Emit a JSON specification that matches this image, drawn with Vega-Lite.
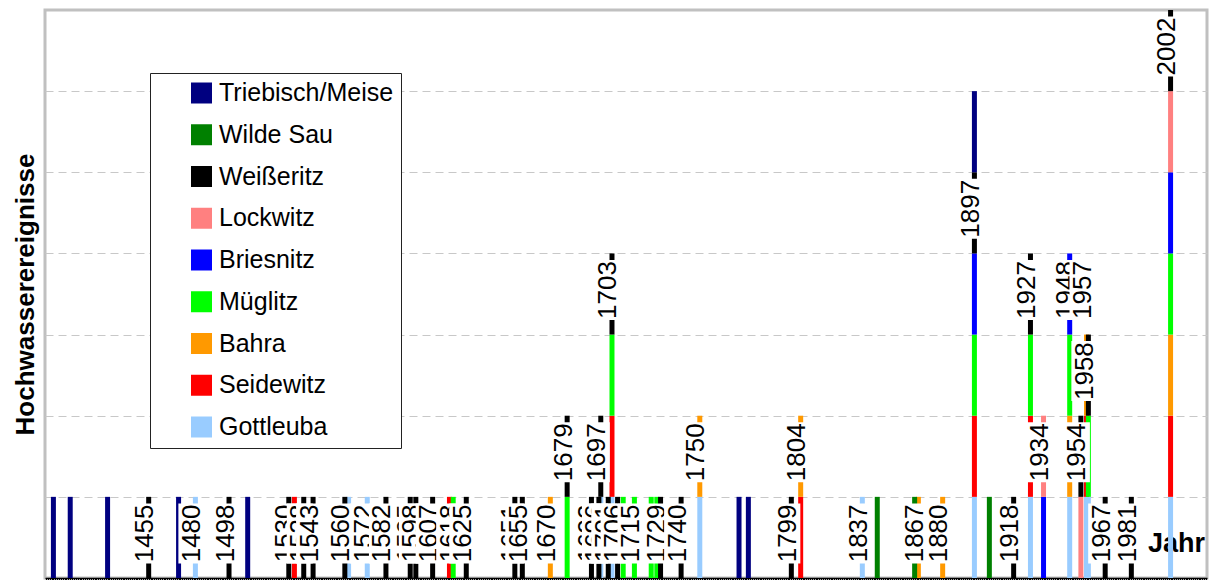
{
  "$schema": "https://vega.github.io/schema/vega-lite/v6.json",
  "width": 1162,
  "height": 568,
  "autosize": "none",
  "padding": {"left": 45, "top": 10, "right": 7, "bottom": 2},
  "background": "white",
  "config": {
    "view": {"stroke": "#c0c0c0", "strokeWidth": 3},
    "font": "Liberation Sans"
  },
  "datasets": {
    "ev": [
      {"year": 1480, "river": "Gottleuba", "n": 1},
      {"year": 1562, "river": "Gottleuba", "n": 1},
      {"year": 1572, "river": "Gottleuba", "n": 1},
      {"year": 1697, "river": "Gottleuba", "n": 1},
      {"year": 1703, "river": "Gottleuba", "n": 1},
      {"year": 1750, "river": "Gottleuba", "n": 1},
      {"year": 1837, "river": "Gottleuba", "n": 1},
      {"year": 1897, "river": "Gottleuba", "n": 1},
      {"year": 1927, "river": "Gottleuba", "n": 1},
      {"year": 1948, "river": "Gottleuba", "n": 1},
      {"year": 1957, "river": "Gottleuba", "n": 1},
      {"year": 1958, "river": "Gottleuba", "n": 1},
      {"year": 2002, "river": "Gottleuba", "n": 1},
      {"year": 1533, "river": "Seidewitz", "n": 1},
      {"year": 1616, "river": "Seidewitz", "n": 1},
      {"year": 1703, "river": "Seidewitz", "n": 1},
      {"year": 1804, "river": "Seidewitz", "n": 1},
      {"year": 1897, "river": "Seidewitz", "n": 1},
      {"year": 1927, "river": "Seidewitz", "n": 1},
      {"year": 1957, "river": "Seidewitz", "n": 1},
      {"year": 2002, "river": "Seidewitz", "n": 1},
      {"year": 1670, "river": "Bahra", "n": 1},
      {"year": 1750, "river": "Bahra", "n": 1},
      {"year": 1804, "river": "Bahra", "n": 1},
      {"year": 1867, "river": "Bahra", "n": 1},
      {"year": 1880, "river": "Bahra", "n": 1},
      {"year": 1948, "river": "Bahra", "n": 1},
      {"year": 1957, "river": "Bahra", "n": 1},
      {"year": 2002, "river": "Bahra", "n": 1},
      {"year": 1618, "river": "Müglitz", "n": 1},
      {"year": 1679, "river": "Müglitz", "n": 1},
      {"year": 1703, "river": "Müglitz", "n": 1},
      {"year": 1709, "river": "Müglitz", "n": 1},
      {"year": 1715, "river": "Müglitz", "n": 1},
      {"year": 1724, "river": "Müglitz", "n": 1},
      {"year": 1727, "river": "Müglitz", "n": 1},
      {"year": 1897, "river": "Müglitz", "n": 1},
      {"year": 1927, "river": "Müglitz", "n": 1},
      {"year": 1948, "river": "Müglitz", "n": 1},
      {"year": 1958, "river": "Müglitz", "n": 1},
      {"year": 2002, "river": "Müglitz", "n": 1},
      {"year": 1897, "river": "Briesnitz", "n": 1},
      {"year": 1934, "river": "Briesnitz", "n": 1},
      {"year": 1948, "river": "Briesnitz", "n": 1},
      {"year": 2002, "river": "Briesnitz", "n": 1},
      {"year": 1934, "river": "Lockwitz", "n": 1},
      {"year": 1954, "river": "Lockwitz", "n": 1},
      {"year": 2002, "river": "Lockwitz", "n": 1},
      {"year": 1455, "river": "Weißeritz", "n": 1},
      {"year": 1498, "river": "Weißeritz", "n": 1},
      {"year": 1530, "river": "Weißeritz", "n": 1},
      {"year": 1538, "river": "Weißeritz", "n": 1},
      {"year": 1543, "river": "Weißeritz", "n": 1},
      {"year": 1560, "river": "Weißeritz", "n": 1},
      {"year": 1582, "river": "Weißeritz", "n": 1},
      {"year": 1595, "river": "Weißeritz", "n": 1},
      {"year": 1598, "river": "Weißeritz", "n": 1},
      {"year": 1607, "river": "Weißeritz", "n": 1},
      {"year": 1625, "river": "Weißeritz", "n": 1},
      {"year": 1651, "river": "Weißeritz", "n": 1},
      {"year": 1655, "river": "Weißeritz", "n": 1},
      {"year": 1679, "river": "Weißeritz", "n": 1},
      {"year": 1692, "river": "Weißeritz", "n": 1},
      {"year": 1696, "river": "Weißeritz", "n": 1},
      {"year": 1697, "river": "Weißeritz", "n": 1},
      {"year": 1701, "river": "Weißeritz", "n": 1},
      {"year": 1703, "river": "Weißeritz", "n": 1},
      {"year": 1706, "river": "Weißeritz", "n": 1},
      {"year": 1729, "river": "Weißeritz", "n": 1},
      {"year": 1740, "river": "Weißeritz", "n": 1},
      {"year": 1799, "river": "Weißeritz", "n": 1},
      {"year": 1897, "river": "Weißeritz", "n": 1},
      {"year": 1918, "river": "Weißeritz", "n": 1},
      {"year": 1927, "river": "Weißeritz", "n": 1},
      {"year": 1954, "river": "Weißeritz", "n": 1},
      {"year": 1958, "river": "Weißeritz", "n": 1},
      {"year": 1967, "river": "Weißeritz", "n": 1},
      {"year": 1981, "river": "Weißeritz", "n": 1},
      {"year": 2002, "river": "Weißeritz", "n": 1},
      {"year": 1845, "river": "Wilde Sau", "n": 1},
      {"year": 1865, "river": "Wilde Sau", "n": 1},
      {"year": 1905, "river": "Wilde Sau", "n": 1},
      {"year": 1404, "river": "Triebisch/Meise", "n": 1},
      {"year": 1413, "river": "Triebisch/Meise", "n": 1},
      {"year": 1433, "river": "Triebisch/Meise", "n": 1},
      {"year": 1471, "river": "Triebisch/Meise", "n": 1},
      {"year": 1508, "river": "Triebisch/Meise", "n": 1},
      {"year": 1771, "river": "Triebisch/Meise", "n": 1},
      {"year": 1776, "river": "Triebisch/Meise", "n": 1},
      {"year": 1897, "river": "Triebisch/Meise", "n": 1}
    ],
    "lab": [
      {"year": 1455, "lvl": 0}, {"year": 1480, "lvl": 0}, {"year": 1498, "lvl": 0},
      {"year": 1530, "lvl": 0}, {"year": 1538, "lvl": 0}, {"year": 1543, "lvl": 0},
      {"year": 1560, "lvl": 0}, {"year": 1572, "lvl": 0}, {"year": 1582, "lvl": 0},
      {"year": 1595, "lvl": 0}, {"year": 1598, "lvl": 0}, {"year": 1607, "lvl": 0},
      {"year": 1618, "lvl": 0}, {"year": 1625, "lvl": 0}, {"year": 1651, "lvl": 0},
      {"year": 1655, "lvl": 0}, {"year": 1670, "lvl": 0}, {"year": 1692, "lvl": 0},
      {"year": 1696, "lvl": 0}, {"year": 1701, "lvl": 0}, {"year": 1706, "lvl": 0},
      {"year": 1715, "lvl": 0}, {"year": 1729, "lvl": 0}, {"year": 1740, "lvl": 0},
      {"year": 1799, "lvl": 0}, {"year": 1837, "lvl": 0}, {"year": 1867, "lvl": 0},
      {"year": 1880, "lvl": 0}, {"year": 1918, "lvl": 0}, {"year": 1967, "lvl": 0},
      {"year": 1981, "lvl": 0},
      {"year": 1679, "lvl": 1}, {"year": 1697, "lvl": 1}, {"year": 1750, "lvl": 1},
      {"year": 1804, "lvl": 1}, {"year": 1934, "lvl": 1}, {"year": 1954, "lvl": 1},
      {"year": 1958, "lvl": 2},
      {"year": 1703, "lvl": 3}, {"year": 1927, "lvl": 3}, {"year": 1948, "lvl": 3},
      {"year": 1957, "lvl": 3},
      {"year": 1897, "lvl": 4},
      {"year": 2002, "lvl": 6}
    ]
  },
  "encoding": {
    "x": {
      "field": "year",
      "type": "quantitative",
      "scale": {"domain": [1399.5, 2021.5], "nice": false, "zero": false, "padding": 0},
      "axis": {
        "title": "Jahr",
        "titleFontSize": 27,
        "titleFontWeight": "bold",
        "titleColor": "black",
        "titleX": 1131,
        "titleY": -35,
        "titleAlign": "center",
        "titleBaseline": "middle",
        "labels": false,
        "grid": false,
        "tickCount": 622,
        "tickSize": 3,
        "tickColor": "black",
        "domainColor": "black",
        "domainWidth": 1.5
      }
    }
  },
  "layer": [
    {
      "data": {"name": "ev"},
      "transform": [
        {"calculate": "8 - indexof(['Triebisch/Meise','Wilde Sau','Weißeritz','Lockwitz','Briesnitz','Müglitz','Bahra','Seidewitz','Gottleuba'], datum.river)", "as": "k"}
      ],
      "mark": {"type": "bar", "width": 5},
      "encoding": {
        "y": {
          "field": "n",
          "type": "quantitative",
          "stack": "zero",
          "scale": {"domain": [0, 7], "nice": false},
          "axis": {
            "title": "Hochwasserereignisse",
            "titleFontSize": 26,
            "titleFontWeight": "bold",
            "titleColor": "black",
            "titleX": -20,
            "titleY": 284,
            "titleAngle": 270,
            "titleAlign": "center",
            "titleBaseline": "middle",
            "values": [1, 2, 3, 4, 5, 6],
            "labels": false,
            "ticks": false,
            "domain": false,
            "grid": true,
            "gridColor": "#c8c8c8",
            "gridDash": [8, 5],
            "gridWidth": 1
          }
        },
        "order": {"field": "k", "type": "quantitative"},
        "color": {
          "field": "river",
          "type": "nominal",
          "scale": {
            "domain": ["Triebisch/Meise", "Wilde Sau", "Weißeritz", "Lockwitz", "Briesnitz", "Müglitz", "Bahra", "Seidewitz", "Gottleuba"],
            "range": ["#000080", "#008000", "#000000", "#ff8080", "#0000ff", "#00ff00", "#ff9900", "#ff0000", "#99ccff"]
          },
          "legend": {
            "title": null,
            "orient": "none",
            "legendX": 105,
            "legendY": 63,
            "padding": 7.5,
            "strokeColor": "#222222",
            "fillColor": "white",
            "symbolType": "square",
            "symbolSize": 441,
            "symbolStrokeWidth": 0,
            "symbolOpacity": 1,
            "symbolOffset": 31.5,
            "labelFontSize": 25,
            "labelColor": "black",
            "labelOffset": 5,
            "rowPadding": 15.75,
            "labelLimit": 400
          }
        }
      }
    },
    {
      "data": {"name": "lab"},
      "transform": [{"filter": {"not": {"field": "year", "oneOf": [1538, 1572, 1655, 1696, 1740, 1880, 1957, 1543, 1582, 1701, 1595, 1706, 1598, 1715, 1607, 1618, 1625]}}}],
      "encoding": {"y": {"field": "lvl", "type": "quantitative"}},
      "layer": [
        {"mark": {"type": "rect", "width": 26, "height": 60, "fill": "white", "xOffset": -4, "yOffset": -44.6}},
        {"mark": {"type": "text", "angle": 270, "fontSize": 26, "color": "black", "align": "center", "baseline": "middle", "xOffset": -3.5, "yOffset": -44.6}, "encoding": {"text": {"field": "year", "type": "quantitative", "format": "d"}}}
      ]
    },
    {
      "data": {"name": "lab"},
      "transform": [{"filter": {"field": "year", "oneOf": [1538, 1572, 1655, 1696, 1740, 1880, 1957]}}],
      "encoding": {"y": {"field": "lvl", "type": "quantitative"}},
      "layer": [
        {"mark": {"type": "rect", "width": 26, "height": 60, "fill": "white", "xOffset": -4, "yOffset": -44.6}},
        {"mark": {"type": "text", "angle": 270, "fontSize": 26, "color": "black", "align": "center", "baseline": "middle", "xOffset": -3.5, "yOffset": -44.6}, "encoding": {"text": {"field": "year", "type": "quantitative", "format": "d"}}}
      ]
    },
    {
      "data": {"name": "lab"},
      "transform": [{"filter": {"field": "year", "oneOf": [1543, 1582, 1701]}}],
      "encoding": {"y": {"field": "lvl", "type": "quantitative"}},
      "layer": [
        {"mark": {"type": "rect", "width": 26, "height": 60, "fill": "white", "xOffset": -4, "yOffset": -44.6}},
        {"mark": {"type": "text", "angle": 270, "fontSize": 26, "color": "black", "align": "center", "baseline": "middle", "xOffset": -3.5, "yOffset": -44.6}, "encoding": {"text": {"field": "year", "type": "quantitative", "format": "d"}}}
      ]
    },
    {
      "data": {"name": "lab"},
      "transform": [{"filter": {"field": "year", "oneOf": [1595, 1706]}}],
      "encoding": {"y": {"field": "lvl", "type": "quantitative"}},
      "layer": [
        {"mark": {"type": "rect", "width": 26, "height": 60, "fill": "white", "xOffset": -4, "yOffset": -44.6}},
        {"mark": {"type": "text", "angle": 270, "fontSize": 26, "color": "black", "align": "center", "baseline": "middle", "xOffset": -3.5, "yOffset": -44.6}, "encoding": {"text": {"field": "year", "type": "quantitative", "format": "d"}}}
      ]
    },
    {
      "data": {"name": "lab"},
      "transform": [{"filter": {"field": "year", "oneOf": [1598, 1715]}}],
      "encoding": {"y": {"field": "lvl", "type": "quantitative"}},
      "layer": [
        {"mark": {"type": "rect", "width": 26, "height": 60, "fill": "white", "xOffset": -4, "yOffset": -44.6}},
        {"mark": {"type": "text", "angle": 270, "fontSize": 26, "color": "black", "align": "center", "baseline": "middle", "xOffset": -3.5, "yOffset": -44.6}, "encoding": {"text": {"field": "year", "type": "quantitative", "format": "d"}}}
      ]
    },
    {
      "data": {"name": "lab"},
      "transform": [{"filter": {"field": "year", "oneOf": [1607]}}],
      "encoding": {"y": {"field": "lvl", "type": "quantitative"}},
      "layer": [
        {"mark": {"type": "rect", "width": 26, "height": 60, "fill": "white", "xOffset": -4, "yOffset": -44.6}},
        {"mark": {"type": "text", "angle": 270, "fontSize": 26, "color": "black", "align": "center", "baseline": "middle", "xOffset": -3.5, "yOffset": -44.6}, "encoding": {"text": {"field": "year", "type": "quantitative", "format": "d"}}}
      ]
    },
    {
      "data": {"name": "lab"},
      "transform": [{"filter": {"field": "year", "oneOf": [1618]}}],
      "encoding": {"y": {"field": "lvl", "type": "quantitative"}},
      "layer": [
        {"mark": {"type": "rect", "width": 26, "height": 60, "fill": "white", "xOffset": -4, "yOffset": -44.6}},
        {"mark": {"type": "text", "angle": 270, "fontSize": 26, "color": "black", "align": "center", "baseline": "middle", "xOffset": -3.5, "yOffset": -44.6}, "encoding": {"text": {"field": "year", "type": "quantitative", "format": "d"}}}
      ]
    },
    {
      "data": {"name": "lab"},
      "transform": [{"filter": {"field": "year", "oneOf": [1625]}}],
      "encoding": {"y": {"field": "lvl", "type": "quantitative"}},
      "layer": [
        {"mark": {"type": "rect", "width": 26, "height": 60, "fill": "white", "xOffset": -4, "yOffset": -44.6}},
        {"mark": {"type": "text", "angle": 270, "fontSize": 26, "color": "black", "align": "center", "baseline": "middle", "xOffset": -3.5, "yOffset": -44.6}, "encoding": {"text": {"field": "year", "type": "quantitative", "format": "d"}}}
      ]
    }
  ]
}
